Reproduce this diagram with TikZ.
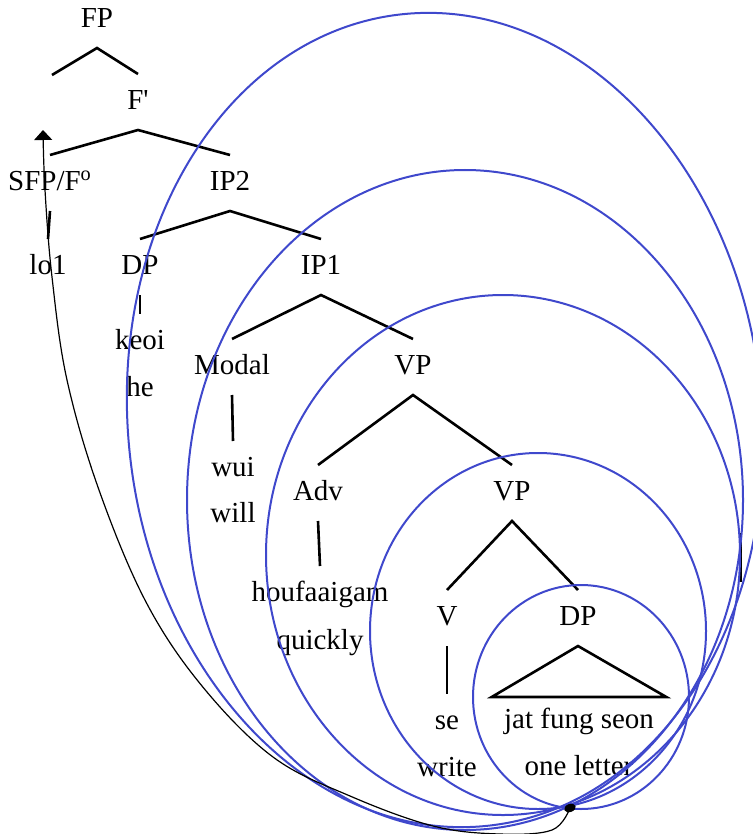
\documentclass[tikz,border=0pt]{standalone}
\usepackage{fontspec}
\setmainfont{Liberation Serif}
\usetikzlibrary{positioning,shapes.geometric,arrows.meta}
\definecolor{loopblue}{RGB}{63,72,204}
\begin{document}
\begin{tikzpicture}[x=0.5pt,y=-0.5pt,
  lab/.style={font=\fontsize{14.5}{17}\selectfont,inner sep=0pt,text height=9.6pt,text depth=0pt},
  branch/.style={line width=1.3pt},
  loop/.style={draw=loopblue,line width=1pt},
  trace/.style={line width=0.6pt,-{Triangle[length=5pt,width=9pt]}}]
\useasboundingbox (0,0) rectangle (752,834);
% tree
\node[lab] (fp) at (97,18) {FP};
\coordinate (spec) at (52,75);
\node[lab] (fbar) at (138,100) {F\textquotesingle};
\node[lab] (sfp) at (50,181) {SFP/F\textsuperscript{o}};
\node[lab] (ip2) at (230,181) {IP2};
\node[lab] (lo) at (48,265) {lo1};
\node[lab] (dp) at (140,265) {DP};
\node[lab] (ip1) at (321,265) {IP1};
\node[lab] (keoi) at (140,340) {keoi};
\node[lab,below=13.5pt of keoi] (he) {he};
\node[lab] (modal) at (232,365) {Modal};
\node[lab] (vp1) at (413,365) {VP};
\node[lab] (wui) at (233,467) {wui};
\node[lab,below=13pt of wui] (will) {will};
\node[lab] (adv) at (318,491) {Adv};
\node[lab] (vp2) at (512,491) {VP};
\node[lab] (hou) at (320,592) {houfaaigam};
\node[lab,below=14pt of hou] (quick) {quickly};
\node[lab] (v) at (447,616) {V};
\node[lab] (dp2) at (578,616) {DP};
\node[lab] (se) at (447,720) {se};
\node[lab,below=13.5pt of se] (write) {write};
\node[lab] (jfs) at (579,719) {jat fung seon};
\node[lab,below=13.5pt of jfs] (letter) {one letter};
\draw[branch] (spec) -- ([yshift=-10pt]fp.south) -- ([yshift=8pt]fbar.north);
\draw[branch] ([yshift=8pt]sfp.north) -- ([yshift=-10pt]fbar.south) -- ([yshift=8pt]ip2.north);
\draw[branch] ([yshift=-10pt]sfp.south) -- ([yshift=8pt]lo.north);
\draw[branch] ([yshift=8pt]dp.north) -- ([yshift=-10pt]ip2.south) -- ([yshift=8pt]ip1.north);
\draw[branch] ([yshift=-10pt]dp.south) -- ([yshift=8pt]keoi.north);
\draw[branch] ([yshift=8pt]modal.north) -- ([yshift=-10pt]ip1.south) -- ([yshift=8pt]vp1.north);
\draw[branch] ([yshift=-10pt]modal.south) -- ([yshift=8pt]wui.north);
\draw[branch] ([yshift=8pt]adv.north) -- ([yshift=-10pt]vp1.south) -- ([yshift=8pt]vp2.north);
\draw[branch] ([yshift=-10pt]adv.south) -- ([yshift=8pt]hou.north);
\draw[branch] ([yshift=8pt]v.north) -- ([yshift=-10pt]vp2.south) -- ([yshift=8pt]dp2.north);
\draw[branch] ([yshift=-10pt]v.south) -- ([yshift=8pt]se.north);
\draw[branch] ([yshift=-10pt]dp2.south) -- ([xshift=-6pt,yshift=6pt]jfs.north west)
  -- ([xshift=6pt,yshift=6pt]jfs.north east) -- cycle;
\draw[branch] (741,533) -- (741,582);
% loops
\draw[loop,rotate around={6:(445,420)}] (445,420) ellipse (158.5pt and 204pt);
\draw[loop] (465,500) ellipse (139pt and 165pt);
\draw[loop] (503,555) ellipse (118.5pt and 130pt);
\draw[loop] (538,631) ellipse (84pt and 89pt);
\draw[loop] (581,697) ellipse (54pt and 56pt);
% movement
\node[fill,ellipse,minimum width=6pt,minimum height=4pt,inner sep=0pt,rotate=20] (dot) at (570,808) {};
\coordinate (tip) at (43,130);
\draw[trace] plot[smooth,tension=0.6] coordinates {(dot) (552,830) (500,834) (433,826) (350,796)
  (273,757) (202,686) (146,602) (99,490) (67,380) (52,277) (45,190) (tip)};
\end{tikzpicture}
\end{document}
